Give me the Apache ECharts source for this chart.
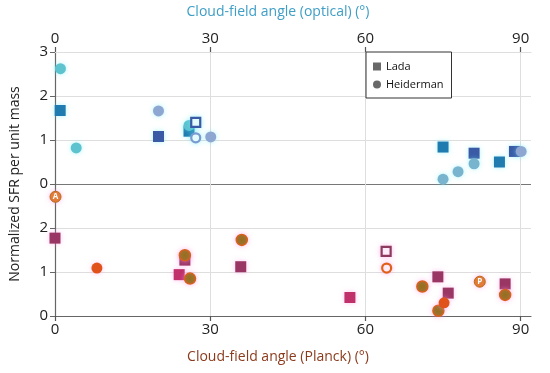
<!DOCTYPE html>
<html>
<head>
<meta charset="utf-8">
<script src="https://cdn.jsdelivr.net/npm/echarts@6/dist/echarts.min.js"></script>
<style>html,body{margin:0;padding:0;background:#fff}#c{width:550px;height:373px}</style>
</head>
<body>
<div id="c"></div>
<script>
// ---- Data (angle in degrees, normalized SFR per unit mass) ----
const xTicks = [0, 30, 60, 90];
const yTicks = [0, 1, 2, 3];

// Top panel: optical cloud-field angle
const opticalLadaBlue   = [[1.0, 1.67], [25.9, 1.20], [75.0, 0.84], [85.9, 0.50]];
const opticalLadaNavy   = [[20.0, 1.08], [81.0, 0.70], [88.8, 0.74]];
const opticalLadaOpen   = [[27.2, 1.40]];
const opticalHeidCyan   = [[1.05, 2.62], [4.1, 0.82], [25.9, 1.33]];
const opticalHeidSky    = [[75.0, 0.11], [77.9, 0.28], [81.0, 0.46]];
const opticalHeidGray   = [[20.0, 1.66], [30.1, 1.07], [90.1, 0.74]];
const opticalHeidOpen   = [[27.2, 1.05]];

// Bottom panel: Planck cloud-field angle
const planckLadaPlum    = [[0.0, 1.77], [25.1, 1.27], [35.9, 1.12], [74.0, 0.89], [76.0, 0.52], [87.0, 0.73]];
const planckLadaMagenta = [[24.0, 0.94], [57.0, 0.42]];
const planckLadaOpen    = [[64.0, 1.47]];
const planckHeidOlive   = [[25.1, 1.38], [26.1, 0.85], [36.1, 1.73], [71.0, 0.67], [74.1, 0.12], [87.0, 0.48]];
const planckHeidOrange  = [[8.1, 1.09], [75.2, 0.30]];
const planckHeidOpen    = [[64.1, 1.09]];
const planckLabeled     = [[0.1, 2.71, 'A'], [82.1, 0.78, 'P']];

const FONT = '"Open Sans", "Noto Sans", sans-serif';
const chart = echarts.init(document.getElementById('c'), null, {renderer: 'canvas'});

const cyanHalo = {shadowColor: 'rgba(110,235,245,0.55)', shadowBlur: 5};
const pinkHalo = {shadowColor: 'rgba(255,150,225,0.55)', shadowBlur: 5};

function sq(name, data, grid, color, halo) {
  return {type: 'scatter', name: name, xAxisIndex: grid, yAxisIndex: grid, data: data,
    symbol: 'rect', symbolSize: 11, z: 3,
    itemStyle: Object.assign({color: color, opacity: 1}, halo)};
}
function ci(name, data, grid, color, halo, border) {
  return {type: 'scatter', name: name, xAxisIndex: grid, yAxisIndex: grid, data: data,
    symbol: 'circle', symbolSize: 11, z: 4,
    itemStyle: Object.assign({color: color, opacity: 1,
      borderColor: border || color, borderWidth: border ? 1.5 : 0}, halo)};
}
function open(name, data, grid, symbol, color, halo) {
  return {type: 'scatter', name: name, xAxisIndex: grid, yAxisIndex: grid, data: data,
    symbol: symbol, symbolSize: 9, z: 5,
    itemStyle: Object.assign({color: '#fff', borderColor: color, borderWidth: 2.2, opacity: 1}, halo)};
}

const xCommon = {
  type: 'value', min: 0, max: 92, interval: 30,
  axisLabel: {fontSize: 15, color: '#222', fontFamily: FONT, margin: 6,
    customValues: xTicks},
  axisTick: {show: true, length: 5, lineStyle: {color: '#555', width: 1.2}, customValues: xTicks},
  splitLine: {show: true, lineStyle: {color: '#dedede', width: 1}}
};
const yCommon = {
  type: 'value', min: 0, max: 3, interval: 1,
  axisLine: {show: true, lineStyle: {color: '#666', width: 1.2}},
  axisTick: {show: true, length: 5, lineStyle: {color: '#666'}},
  axisLabel: {fontSize: 15, color: '#222', fontFamily: FONT, margin: 7}
};

chart.setOption({
  animation: false,
  backgroundColor: '#fff',
  grid: [
    {left: 55, right: 19, top: 52, height: 132},
    {left: 55, right: 19, top: 184, height: 132}
  ],
  xAxis: [
    Object.assign({}, xCommon, {gridIndex: 0, position: 'top',
      axisLine: {show: true, onZero: false, lineStyle: {color: '#dedede', width: 1}}}),
    Object.assign({}, xCommon, {gridIndex: 1, position: 'bottom',
      axisLine: {show: true, onZero: false, lineStyle: {color: '#666', width: 1.2}}})
  ],
  yAxis: [
    Object.assign({}, yCommon, {gridIndex: 0,
      splitLine: {show: true, lineStyle: {color: ['#777', '#dedede', '#dedede', '#dedede'], width: 1.2}}}),
    Object.assign({}, yCommon, {gridIndex: 1,
      axisLabel: Object.assign({}, yCommon.axisLabel, {formatter: v => (v === 3 ? '' : String(v))}),
      splitLine: {show: true, lineStyle: {color: ['#dedede', '#dedede', '#dedede', '#777'], width: 1.2}}})
  ],
  legend: {
    left: 366, top: 52, orient: 'vertical',
    data: [{name: 'Lada', icon: 'rect'}, {name: 'Heiderman', icon: 'circle'}],
    itemWidth: 8, itemHeight: 8, itemGap: 7,
    padding: [9, 8, 8, 7],
    borderColor: '#333', borderWidth: 1, backgroundColor: '#fff',
    textStyle: {fontSize: 11, color: '#111', fontFamily: FONT},
    z: 10
  },
  graphic: [
    {type: 'text', x: 278, y: 12, z: 10,
      style: {text: 'Cloud-field angle (optical) (°)', fill: '#3f9ec6', font: '14px ' + FONT,
        align: 'center', verticalAlign: 'middle'}},
    {type: 'text', x: 278, y: 357, z: 10,
      style: {text: 'Cloud-field angle (Planck) (°)', fill: '#8b3a1c', font: '14px ' + FONT,
        align: 'center', verticalAlign: 'middle'}},
    {type: 'text', x: 15, y: 184, rotation: Math.PI / 2, z: 10,
      style: {text: 'Normalized SFR per unit mass', fill: '#222', font: '14px ' + FONT,
        align: 'center', verticalAlign: 'middle'}}
  ],
  series: [
    {type: 'scatter', name: 'Lada', data: [], xAxisIndex: 0, yAxisIndex: 0, symbol: 'rect', itemStyle: {color: '#444'}},
    {type: 'scatter', name: 'Heiderman', data: [], xAxisIndex: 0, yAxisIndex: 0, symbol: 'circle', itemStyle: {color: '#444'}},

    sq('oLadaBlue', opticalLadaBlue, 0, '#1f7bb0', cyanHalo),
    sq('oLadaNavy', opticalLadaNavy, 0, '#3a5aa6', cyanHalo),
    open('oLadaOpen', opticalLadaOpen, 0, 'rect', '#3a5aa6', cyanHalo),
    ci('oHeidCyan', opticalHeidCyan, 0, '#5cc3cf', cyanHalo),
    ci('oHeidSky', opticalHeidSky, 0, '#79b4cf', cyanHalo),
    ci('oHeidGray', opticalHeidGray, 0, '#8ea6d2', cyanHalo),
    open('oHeidOpen', opticalHeidOpen, 0, 'circle', '#7a9ad2', cyanHalo),

    sq('pLadaPlum', planckLadaPlum, 1, '#9a3664', pinkHalo),
    sq('pLadaMag', planckLadaMagenta, 1, '#c0306a', pinkHalo),
    open('pLadaOpen', planckLadaOpen, 1, 'rect', '#8d3a5e', pinkHalo),
    ci('pHeidOlive', planckHeidOlive, 1, '#8f6c12', pinkHalo, '#d8601c'),
    ci('pHeidOrange', planckHeidOrange, 1, '#e0521a', pinkHalo),
    open('pHeidOpen', planckHeidOpen, 1, 'circle', '#e0601a', pinkHalo),
    {type: 'scatter', name: 'pLabeled', xAxisIndex: 1, yAxisIndex: 1,
      data: planckLabeled.map(d => ({value: [d[0], d[1]], name: d[2]})),
      symbol: 'circle', symbolSize: 11, z: 6,
      itemStyle: Object.assign({color: '#e07a2c', borderColor: '#b86a18', borderWidth: 1, opacity: 1}, pinkHalo),
      label: {show: true, position: 'inside', formatter: p => p.name, color: '#fff',
        fontSize: 8, fontWeight: 'bold', fontFamily: FONT}}
  ]
});
</script>
</body>
</html>
